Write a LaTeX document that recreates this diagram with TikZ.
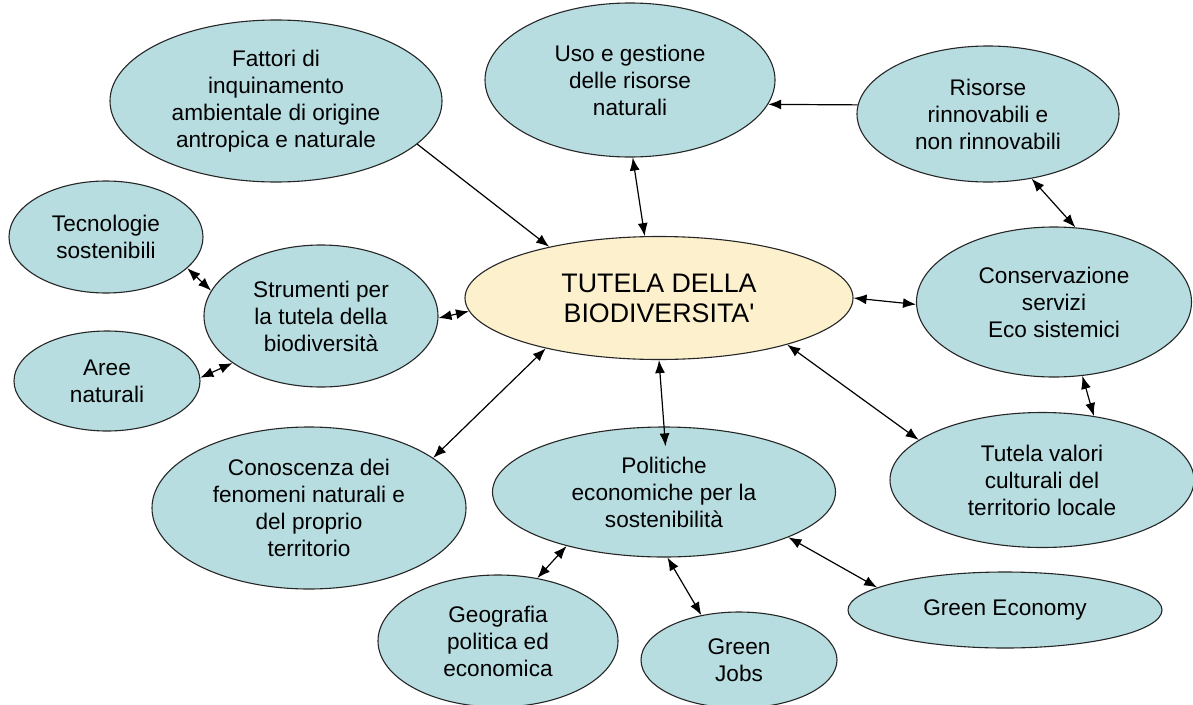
\documentclass[tikz,border=0pt]{standalone}
\usepackage{fontspec}
\setmainfont{Liberation Sans}
\usepackage{xcolor}
\usetikzlibrary{arrows,arrows.meta,positioning,shapes.geometric}
\definecolor{bubblefill}{RGB}{183,221,225}
\definecolor{corefill}{RGB}{253,240,205}

\begin{document}
\begin{tikzpicture}[x=1pt,y=-1pt,
  bubble/.style={ellipse,draw=black!85,line width=1.1pt,fill=bubblefill,
    inner sep=0pt,align=center,font=\fontsize{22.6}{27}\selectfont},
  core/.style={bubble,fill=corefill,font=\fontsize{26.8}{30}\selectfont},
  link/.style={line width=1.2pt,{Latex[length=13pt,width=10pt]}-{Latex[length=13pt,width=10pt]}},
  oneway/.style={line width=1.2pt,-{Latex[length=13pt,width=10pt]}}]
  \useasboundingbox (0,0) rectangle (1193,704);
  \node[core,minimum width=388pt,minimum height=123pt] (tutela) at (659,298) {TUTELA DELLA\\BIODIVERSITA\textquotesingle};
  \node[bubble,minimum width=332pt,minimum height=162pt] (fattori) at (276,101) {Fattori di\\inquinamento\\ambientale di origine\\antropica e naturale};
  \node[bubble,minimum width=290pt,minimum height=154pt] (uso) at (630,80) {Uso e gestione\\delle risorse\\naturali};
  \node[bubble,minimum width=262pt,minimum height=136pt] (risorse) at (988,114) {Risorse\\rinnovabili e\\non rinnovabili};
  \node[bubble,minimum width=194pt,minimum height=112pt] (tecno) at (106,237) {Tecnologie\\sostenibili};
  \node[bubble,minimum width=234pt,minimum height=142pt] (strumenti) at (321,316) {Strumenti per\\la tutela della\\biodiversità};
  \node[bubble,minimum width=186pt,minimum height=100pt] (aree) at (107,381) {Aree\\naturali};
  \node[bubble,minimum width=275pt,minimum height=150pt] (conserv) at (1054,302) {Conservazione\\servizi\\Eco sistemici};
  \node[bubble,minimum width=304pt,minimum height=135pt] (valori) at (1042,480) {Tutela valori\\culturali del\\territorio locale};
  \node[bubble,minimum width=314pt,minimum height=162pt] (conoscenza) at (309,508) {Conoscenza dei\\fenomeni naturali e\\del proprio\\territorio};
  \node[bubble,minimum width=343pt,minimum height=130pt] (politiche) at (664,492) {Politiche\\economiche per la\\sostenibilità};
  \node[bubble,minimum width=240pt,minimum height=132pt] (geografia) at (498,641) {Geografia\\politica ed\\economica};
  \node[bubble,minimum width=196pt,minimum height=96pt] (jobs) at (739,660) {Green\\Jobs};
  \node[bubble,minimum width=314pt,minimum height=76pt] (economy) at (1005,610) {Green Economy};
  \draw[oneway] (fattori.-17) -- (tutela.155);
  \draw[oneway] (risorse.176) -- (uso.-10);
  \draw[link] (uso.-88) -- (tutela.103);
  \draw[link] (risorse.-56) -- (conserv.74);
  \draw[link] (tutela.0) -- (conserv.181);
  \draw[link] (conserv.-69) -- (valori.51);
  \draw[link] (tutela.-20) -- (valori.162);
  \draw[link,shorten >=-20pt] (tutela.-90) -- (politiche.90);
  \draw[link] (tutela.204) -- (conoscenza.22);
  \draw[link] (strumenti.-1) -- (tutela.184);
  \draw[link] (tecno.-21) -- (strumenti.167);
  \draw[link] (aree.2) -- (strumenti.208);
  \draw[link] (geografia.58) -- (politiche.209);
  \draw[link] (jobs.130) -- (politiche.-87);
  \draw[link] (economy.170) -- (politiche.-20);
\end{tikzpicture}
\end{document}
